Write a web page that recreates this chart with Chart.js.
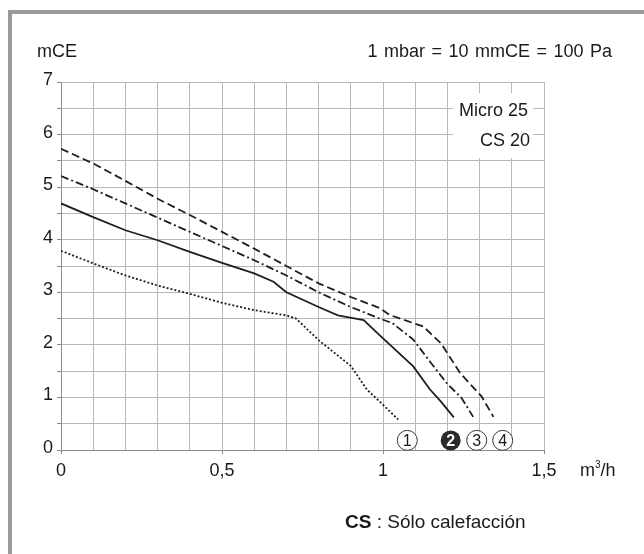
<!DOCTYPE html>
<html>
<head>
<meta charset="utf-8">
<script src="https://cdn.jsdelivr.net/npm/chart.js@4.4.0/dist/chart.umd.min.js"></script>
<style>
  html, body { margin: 0; padding: 0; background: #fff; }
  #wrap { position: relative; width: 644px; height: 554px; overflow: hidden; }
  #marco { position: absolute; left: 8px; top: 10px; width: 700px; height: 700px;
           border-left: 4px solid #9a9a9a; border-top: 4px solid #9a9a9a; }
  canvas { position: absolute; left: 0; top: 0; }
</style>
</head>
<body>
<div id="wrap">
  <div id="marco"></div>
  <canvas id="grafico" width="644" height="554"></canvas>
</div>
<script>
// --- datos: caudal (m3/h) y altura manometrica (mCE) de cada velocidad ---
const caudal1 = [0, 0.1, 0.2, 0.3, 0.4, 0.5, 0.6, 0.7, 0.73, 0.8, 0.9, 0.95, 0.99, 1.047];
const altura1 = [3.79, 3.55, 3.32, 3.13, 2.97, 2.80, 2.66, 2.56, 2.50, 2.09, 1.60, 1.15, 0.92, 0.58];

const caudal2 = [0, 0.1, 0.2, 0.3, 0.4, 0.5, 0.6, 0.66, 0.7, 0.8, 0.86, 0.94, 0.99, 1.094, 1.146, 1.18, 1.22];
const altura2 = [4.69, 4.43, 4.18, 3.99, 3.77, 3.56, 3.36, 3.20, 3.00, 2.72, 2.56, 2.47, 2.18, 1.59, 1.15, 0.92, 0.62];

const caudal3 = [0, 0.1, 0.2, 0.3, 0.4, 0.5, 0.6, 0.7, 0.8, 0.9, 0.99, 1.03, 1.094, 1.146, 1.198, 1.244, 1.28];
const altura3 = [5.21, 4.96, 4.69, 4.42, 4.15, 3.88, 3.61, 3.32, 3.00, 2.72, 2.50, 2.41, 2.10, 1.68, 1.27, 0.99, 0.63];

const caudal4 = [0, 0.1, 0.2, 0.3, 0.4, 0.5, 0.6, 0.7, 0.8, 0.9, 0.99, 1.02, 1.125, 1.18, 1.24, 1.306, 1.343];
const altura4 = [5.73, 5.45, 5.12, 4.78, 4.47, 4.15, 3.83, 3.50, 3.17, 2.91, 2.70, 2.57, 2.35, 2.03, 1.46, 1.02, 0.63];

// etiquetas de los ejes
const valoresX = [0, 0.5, 1, 1.5];
const etiquetasX = ['0', '0,5', '1', '1,5'];
const valoresY = [0, 1, 2, 3, 4, 5, 6, 7];
const etiquetasY = ['0', '1', '2', '3', '4', '5', '6', '7'];

// numeros de velocidad (1..4), el 2 va relleno
const velocidades = ['1', '2', '3', '4'];

// textos
const unidadY = 'mCE';
const unidadX = 'm³/h';
const nota = '1 mbar = 10 mmCE = 100 Pa';
const modelo = ['Micro 25', 'CS 20'];
const leyendaCS = 'CS';
const leyendaTexto = ' : Sólo calefacción';

// --- estilo ---
const FUENTE = '"Liberation Sans", Arial, sans-serif';
const TINTA = '#1a1a1a';
const REJILLA = '#b8b8b8';
const EJE = '#8c8c8c';

// posiciones de los circulos (en unidades del grafico)
const circulosX = [1.0755, 1.2102, 1.291, 1.3717];
const circulosY = 0.183;

function puntos(xs, ys) {
  return xs.map((v, i) => ({ x: v, y: ys[i] }));
}

function etiqueta(valores, etiquetas, v) {
  const i = valores.findIndex(t => Math.abs(t - v) < 1e-6);
  return i >= 0 ? etiquetas[i] : '';
}

function curva(xs, ys, guiones) {
  return {
    data: puntos(xs, ys),
    borderColor: '#1e1e1e',
    borderWidth: 1.8,
    borderDash: guiones,
    pointRadius: 0,
    showLine: true,
    fill: false,
    tension: 0
  };
}

// --- textos sobre el lienzo ---
const textos = {
  id: 'textos',
  afterDraw(chart) {
    const { ctx, scales: { x, y } } = chart;
    ctx.save();
    ctx.fillStyle = TINTA;
    ctx.font = '18px ' + FUENTE;
    ctx.textBaseline = 'alphabetic';

    ctx.textAlign = 'left';
    ctx.fillText(unidadY, 37, 57);

    // m³/h con superindice
    const [base, resto] = unidadX.split('³');
    ctx.fillText(base, 580, 476);
    const anchoBase = ctx.measureText(base).width;
    ctx.font = '10px ' + FUENTE;
    ctx.fillText('3', 580 + anchoBase, 468);
    const anchoTres = ctx.measureText('3').width;
    ctx.font = '18px ' + FUENTE;
    ctx.fillText(resto, 580 + anchoBase + anchoTres, 476);

    ctx.textAlign = 'right';
    ctx.wordSpacing = '1.5px';
    ctx.fillText(nota, 612, 57);
    ctx.wordSpacing = '0px';

    // caja del modelo
    ctx.fillStyle = '#fff';
    ctx.fillRect(453, 93, 80, 65);
    ctx.fillStyle = TINTA;
    ctx.fillText(modelo[0], 528, 116);
    ctx.fillText(modelo[1], 530, 146);

    // leyenda inferior
    ctx.textAlign = 'left';
    ctx.font = 'bold 19px ' + FUENTE;
    ctx.fillText(leyendaCS, 345, 528);
    const anchoCS = ctx.measureText(leyendaCS).width;
    ctx.font = '19px ' + FUENTE;
    ctx.wordSpacing = '2px';
    ctx.fillText(leyendaTexto, 345 + anchoCS, 528);
    ctx.wordSpacing = '0px';

    // circulos numerados
    ctx.textAlign = 'center';
    ctx.textBaseline = 'middle';
    velocidades.forEach((n, i) => {
      const cx = x.getPixelForValue(circulosX[i]);
      const cy = y.getPixelForValue(circulosY);
      ctx.beginPath();
      ctx.arc(cx, cy, 10, 0, Math.PI * 2);
      if (i === 1) {
        ctx.fillStyle = '#2a2a2a';
        ctx.fill();
        ctx.fillStyle = '#fff';
        ctx.font = 'bold 16px ' + FUENTE;
      } else {
        ctx.fillStyle = '#fff';
        ctx.fill();
        ctx.lineWidth = 1;
        ctx.strokeStyle = '#333';
        ctx.stroke();
        ctx.fillStyle = TINTA;
        ctx.font = '16px ' + FUENTE;
      }
      ctx.fillText(n, cx, cy + 1);
    });
    ctx.restore();
  }
};

const ctx = document.getElementById('grafico').getContext('2d');
new Chart(ctx, {
  type: 'scatter',
  data: {
    datasets: [
      curva(caudal1, altura1, [2, 2]),
      curva(caudal2, altura2, []),
      curva(caudal3, altura3, [8, 3, 2, 3]),
      curva(caudal4, altura4, [8, 4])
    ]
  },
  options: {
    responsive: false,
    animation: false,
    layout: { padding: { left: 0, top: 82, right: 100, bottom: 0 } },
    plugins: { legend: { display: false }, tooltip: { enabled: false } },
    scales: {
      x: {
        type: 'linear',
        min: 0,
        max: 1.5,
        afterFit: (s) => { s.height = 104; },
        ticks: {
          stepSize: 0.1,
          autoSkip: false,
          maxRotation: 0,
          padding: 6,
          color: TINTA,
          font: { family: FUENTE, size: 18 },
          callback: (v) => etiqueta(valoresX, etiquetasX, v)
        },
        grid: {
          color: REJILLA,
          lineWidth: 1,
          tickLength: 4,
          tickColor: (c) => etiqueta(valoresX, etiquetasX, c.tick.value) !== '' ? EJE : 'rgba(0,0,0,0)'
        },
        border: { color: EJE, width: 1 }
      },
      y: {
        type: 'linear',
        min: 0,
        max: 7,
        afterFit: (s) => { s.width = 61; },
        ticks: {
          stepSize: 0.5,
          autoSkip: false,
          padding: 4,
          labelOffset: -2,
          color: TINTA,
          font: { family: FUENTE, size: 18 },
          callback: (v) => etiqueta(valoresY, etiquetasY, v)
        },
        grid: {
          color: REJILLA,
          lineWidth: 1,
          tickLength: 4,
          tickColor: EJE
        },
        border: { color: EJE, width: 1 }
      }
    }
  },
  plugins: [textos]
});
</script>
</body>
</html>
